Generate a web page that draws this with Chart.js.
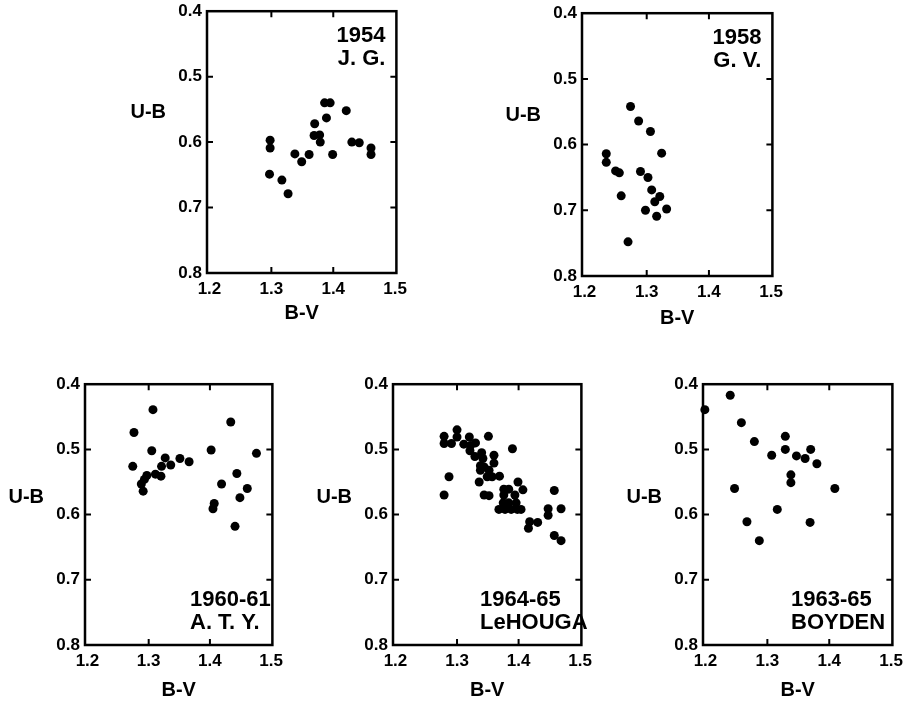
<!DOCTYPE html>
<html>
<head>
<meta charset="utf-8">
<script src="https://cdn.jsdelivr.net/npm/chart.js@4.4.0/dist/chart.umd.min.js"></script>
<style>
  body { margin: 0; background: #fff; }
  #page { position: relative; width: 909px; height: 702px; overflow: hidden; }
  canvas { position: absolute; }
</style>
</head>
<body>
<div id="page"></div>
<script>
// Graduations communes
const bvTicks = [1.2, 1.3, 1.4, 1.5];
const ubTicks = [0.4, 0.5, 0.6, 0.7, 0.8];

// 1954 - J. G.
const bv1954 = [1.298, 1.298, 1.297, 1.317, 1.327, 1.338, 1.349, 1.361, 1.370, 1.369, 1.378, 1.379, 1.386, 1.395, 1.389, 1.399, 1.421, 1.430, 1.442, 1.461, 1.461];
const ub1954 = [0.597, 0.609, 0.649, 0.658, 0.679, 0.618, 0.630, 0.619, 0.572, 0.590, 0.589, 0.600, 0.540, 0.540, 0.563, 0.619, 0.552, 0.600, 0.601, 0.609, 0.619];

// 1958 - G. V.
const bv1958 = [1.235, 1.235, 1.250, 1.256, 1.259, 1.274, 1.287, 1.306, 1.324, 1.290, 1.302, 1.308, 1.313, 1.321, 1.298, 1.316, 1.332, 1.270];
const ub1958 = [0.614, 0.627, 0.640, 0.643, 0.678, 0.542, 0.564, 0.580, 0.613, 0.641, 0.650, 0.669, 0.687, 0.679, 0.700, 0.709, 0.698, 0.748];

// 1960-61 - A. T. Y.
const bv1960 = [1.307, 1.276, 1.305, 1.274, 1.327, 1.321, 1.336, 1.351, 1.366, 1.311, 1.320, 1.297, 1.293, 1.288, 1.291, 1.402, 1.434, 1.476, 1.444, 1.419, 1.461, 1.449, 1.407, 1.405, 1.441];
const ub1960 = [0.439, 0.474, 0.502, 0.526, 0.513, 0.526, 0.524, 0.514, 0.519, 0.538, 0.541, 0.540, 0.546, 0.553, 0.564, 0.501, 0.458, 0.506, 0.537, 0.553, 0.560, 0.574, 0.583, 0.591, 0.618];

// 1964-65 - LeHOUGA
const bv1964 = [1.279, 1.279, 1.291, 1.300, 1.300, 1.311, 1.320, 1.321, 1.322, 1.330, 1.329, 1.351, 1.340, 1.342, 1.338, 1.338, 1.344, 1.360, 1.360, 1.352, 1.349, 1.357, 1.369, 1.336, 1.287, 1.279, 1.344, 1.352, 1.390,
                1.376, 1.384, 1.376, 1.394, 1.399, 1.407, 1.375, 1.384, 1.368, 1.378, 1.388, 1.396, 1.398, 1.404, 1.416, 1.418, 1.431, 1.448, 1.448, 1.458, 1.469, 1.458, 1.469];
const ub1964 = [0.480, 0.491, 0.491, 0.470, 0.481, 0.492, 0.481, 0.502, 0.494, 0.490, 0.511, 0.480, 0.505, 0.514, 0.525, 0.532, 0.527, 0.509, 0.521, 0.532, 0.542, 0.542, 0.541, 0.550, 0.542, 0.570, 0.570, 0.571, 0.499,
                0.561, 0.561, 0.570, 0.570, 0.550, 0.562, 0.582, 0.582, 0.592, 0.592, 0.592, 0.582, 0.592, 0.592, 0.621, 0.611, 0.612, 0.591, 0.601, 0.563, 0.591, 0.632, 0.640];

// 1963-65 - BOYDEN
const bv1963 = [1.199, 1.240, 1.258, 1.279, 1.247, 1.267, 1.287, 1.307, 1.316, 1.329, 1.329, 1.347, 1.361, 1.370, 1.380, 1.338, 1.338, 1.369, 1.409];
const ub1963 = [0.439, 0.417, 0.459, 0.488, 0.560, 0.611, 0.640, 0.509, 0.592, 0.480, 0.500, 0.510, 0.514, 0.500, 0.522, 0.539, 0.551, 0.612, 0.560];

// Cadres des panneaux en pixels : [gauche, haut, droite, bas]
const panels = [
  { box: [207, 10, 409, 273], bv: bv1954, ub: ub1954, label: ['1954', 'J. G.'], corner: 'top', ubAt: 0.555, titleGap: 8 },
  { box: [582, 12, 785, 276], bv: bv1958, ub: ub1958, label: ['1958', 'G. V.'], corner: 'top', ubAt: 0.556, titleGap: 6 },
  { box: [85, 383, 285, 645], bv: bv1960, ub: ub1960, label: ['1960-61', 'A. T. Y.'], corner: 'bottom', ubAt: 0.574, textX: 105, titleGap: 3 },
  { box: [393, 383, 594, 645], bv: bv1964, ub: ub1964, label: ['1964-65', 'LeHOUGA'], corner: 'bottom', ubAt: 0.574, textX: 87, titleGap: 3 },
  { box: [703, 383, 905, 645], bv: bv1963, ub: ub1963, label: ['1963-65', 'BOYDEN'], corner: 'bottom', ubAt: 0.574, textX: 88, titleGap: 3 }
];

const FAMILY = '"Liberation Sans", Arial, sans-serif';
const PAD_L = 60, PAD_T = 14, PAD_R = 4, AXIS_W = 40, AXIS_H = 60;

// Cadre, graduations intérieures, "U-B" et étiquette du panneau
const framePlugin = {
  id: 'frame',
  afterDatasetsDraw(chart, args, opts) {
    const { ctx, chartArea: a, scales: { x, y } } = chart;
    ctx.save();
    ctx.strokeStyle = '#000';
    ctx.lineWidth = 2.5;
    ctx.strokeRect(a.left, a.top, a.right - a.left, a.bottom - a.top);
    ctx.lineWidth = 2;
    ctx.beginPath();
    bvTicks.slice(1, -1).forEach(v => {
      const px = x.getPixelForValue(v);
      ctx.moveTo(px, a.top); ctx.lineTo(px, a.top + 6);
      ctx.moveTo(px, a.bottom); ctx.lineTo(px, a.bottom - 6);
    });
    ubTicks.slice(1, -1).forEach(v => {
      const py = y.getPixelForValue(v);
      ctx.moveTo(a.left, py); ctx.lineTo(a.left + 6, py);
      ctx.moveTo(a.right, py); ctx.lineTo(a.right - 6, py);
    });
    ctx.stroke();

    ctx.fillStyle = '#000';
    ctx.font = 'bold 20px ' + FAMILY;
    ctx.textAlign = 'right';
    ctx.textBaseline = 'middle';
    ctx.fillText('U-B', a.left - 41, y.getPixelForValue(opts.ubAt));

    ctx.font = 'bold 22px ' + FAMILY;
    ctx.textBaseline = 'alphabetic';
    if (opts.corner === 'top') {
      ctx.textAlign = 'right';
      ctx.fillText(opts.label[0], a.right - 11, a.top + 31);
      ctx.fillText(opts.label[1], a.right - 11, a.top + 54);
    } else {
      ctx.textAlign = 'left';
      ctx.fillText(opts.label[0], a.left + opts.textX, a.bottom - 39);
      ctx.fillText(opts.label[1], a.left + opts.textX, a.bottom - 16);
    }
    ctx.restore();
  }
};

const page = document.getElementById('page');

panels.forEach(p => {
  const [L, T, R, B] = p.box;
  const w = R - L + PAD_L + AXIS_W + PAD_R;
  const h = B - T + PAD_T + AXIS_H;
  const canvas = document.createElement('canvas');
  canvas.width = w;
  canvas.height = h;
  canvas.style.left = (L - PAD_L - AXIS_W) + 'px';
  canvas.style.top = (T - PAD_T) + 'px';
  canvas.style.width = w + 'px';
  canvas.style.height = h + 'px';
  page.appendChild(canvas);

  new Chart(canvas, {
    type: 'scatter',
    data: {
      datasets: [{
        data: p.bv.map((v, i) => ({ x: v, y: p.ub[i] })),
        pointRadius: 4.5,
        pointBackgroundColor: '#000',
        pointBorderWidth: 0,
        clip: false
      }]
    },
    options: {
      responsive: false,
      animation: false,
      layout: { padding: { left: PAD_L, top: PAD_T, right: PAD_R, bottom: 0 } },
      plugins: {
        legend: { display: false },
        tooltip: { enabled: false },
        frame: { label: p.label, corner: p.corner, ubAt: p.ubAt, textX: p.textX }
      },
      scales: {
        x: {
          type: 'linear',
          position: 'bottom',
          min: 1.196,
          max: 1.502,
          afterBuildTicks: s => { s.ticks = bvTicks.map(v => ({ value: v })); },
          afterFit: s => { s.height = AXIS_H; },
          grid: { display: false, drawTicks: false },
          border: { display: false },
          ticks: {
            padding: 6, color: '#000', maxRotation: 0, autoSkip: false,
            font: { family: FAMILY, size: 17, weight: 'bold' },
            callback: v => v.toFixed(1)
          },
          title: {
            display: true, text: 'B-V', color: '#000',
            font: { family: FAMILY, size: 20, weight: 'bold' },
            padding: { top: 0, bottom: p.titleGap }
          }
        },
        y: {
          type: 'linear',
          reverse: true,
          min: 0.4,
          max: 0.8,
          afterBuildTicks: s => { s.ticks = ubTicks.map(v => ({ value: v })); },
          afterFit: s => { s.width = AXIS_W; },
          grid: { display: false, drawTicks: false },
          border: { display: false },
          ticks: {
            padding: 5, color: '#000', autoSkip: false,
            font: { family: FAMILY, size: 17, weight: 'bold' },
            callback: v => v.toFixed(1)
          }
        }
      }
    },
    plugins: [framePlugin]
  });
});
</script>
</body>
</html>
